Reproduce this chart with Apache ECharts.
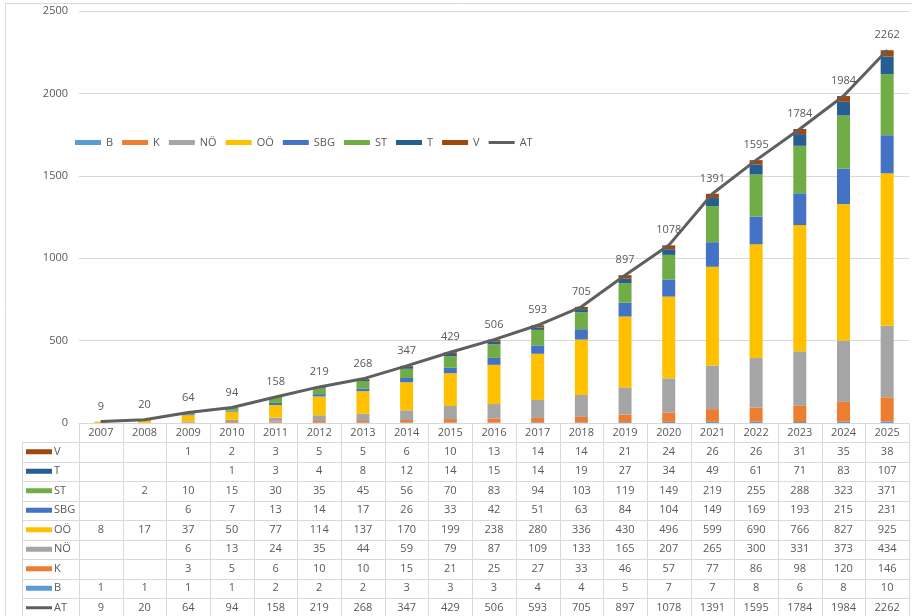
<!DOCTYPE html>
<html>
<head>
<meta charset="utf-8">
<script src="https://cdn.jsdelivr.net/npm/echarts@6/dist/echarts.min.js"></script>
<style>
  html, body { margin: 0; padding: 0; background: #fff; }
  #chart { width: 912px; height: 616px; }
</style>
</head>
<body>
<div id="chart"></div>
<script>
var years = ['2007','2008','2009','2010','2011','2012','2013','2014','2015','2016','2017','2018','2019','2020','2021','2022','2023','2024','2025'];
var yTicks = [0, 500, 1000, 1500, 2000, 2500];

var B   = [1, 1, 1, 1, 2, 2, 2, 3, 3, 3, 4, 4, 5, 7, 7, 8, 6, 8, 10];
var K   = [null, null, 3, 5, 6, 10, 10, 15, 21, 25, 27, 33, 46, 57, 77, 86, 98, 120, 146];
var NOE = [null, null, 6, 13, 24, 35, 44, 59, 79, 87, 109, 133, 165, 207, 265, 300, 331, 373, 434];
var OOE = [8, 17, 37, 50, 77, 114, 137, 170, 199, 238, 280, 336, 430, 496, 599, 690, 766, 827, 925];
var SBG = [null, null, 6, 7, 13, 14, 17, 26, 33, 42, 51, 63, 84, 104, 149, 169, 193, 215, 231];
var ST  = [null, 2, 10, 15, 30, 35, 45, 56, 70, 83, 94, 103, 119, 149, 219, 255, 288, 323, 371];
var T   = [null, null, null, 1, 3, 4, 8, 12, 14, 15, 14, 19, 27, 34, 49, 61, 71, 83, 107];
var V   = [null, null, 1, 2, 3, 5, 5, 6, 10, 13, 14, 14, 21, 24, 26, 26, 31, 35, 38];
var AT  = [9, 20, 64, 94, 158, 219, 268, 347, 429, 506, 593, 705, 897, 1078, 1391, 1595, 1784, 1984, 2262];

var barNames  = ['B', 'K', 'NÖ', 'OÖ', 'SBG', 'ST', 'T', 'V'];
var barData   = [B, K, NOE, OOE, SBG, ST, T, V];
var barColors = ['#5B9BD5', '#ED7D31', '#A5A5A5', '#FFC000', '#4472C4', '#70AD47', '#255E91', '#9E480E'];
var lineColor = '#5f5f5f';
var textColor = '#595959';
var gridColor = '#d9d9d9';
var font = '"Open Sans", sans-serif';

var series = [];
barNames.forEach(function (name, i) {
    series.push({
        name: name,
        type: 'bar',
        stack: 'total',
        barWidth: 13,
        itemStyle: { color: barColors[i] },
        data: barData[i]
    });
});
// labels of a line sit on its symbols, so keep a tiny symbol
series.push({
    name: 'AT',
    type: 'line',
    symbol: 'circle',
    symbolSize: 1,
    showSymbol: true,
    z: 5,
    lineStyle: { color: lineColor, width: 3 },
    itemStyle: { color: lineColor },
    label: {
        show: true,
        position: 'top',
        distance: 9,
        color: textColor,
        fontSize: 11,
        fontFamily: font
    },
    data: AT
});

var chart = echarts.init(document.getElementById('chart'));

var option = {
    animation: false,
    backgroundColor: '#fff',
    legend: {
        left: 75,
        top: 137,
        padding: 0,
        itemWidth: 26,
        itemHeight: 5,
        itemGap: 9,
        icon: 'rect',
        textStyle: { color: textColor, fontSize: 11, fontFamily: font },
        data: barNames.concat([{ name: 'AT', icon: 'path://M0,0H26V3H0Z' }])
    },
    grid: {
        left: 79,
        right: 3,
        top: 11,
        bottom: 193,
        containLabel: false
    },
    xAxis: {
        type: 'category',
        data: years,
        axisLine: { show: true, lineStyle: { color: gridColor } },
        axisTick: { show: false },
        axisLabel: { color: textColor, fontSize: 11, fontFamily: font, margin: 4 }
    },
    yAxis: {
        type: 'value',
        min: yTicks[0],
        max: yTicks[yTicks.length - 1],
        interval: yTicks[1] - yTicks[0],
        axisLine: { show: false },
        axisTick: { show: false },
        splitLine: { lineStyle: { color: gridColor } },
        axisLabel: {
            color: textColor, fontSize: 11, fontFamily: font, margin: 11,
            formatter: function (v) { return String(v); }
        }
    },
    series: series
};

chart.setOption(option);

// data table under the plot, placed from the category axis positions
function buildTable() {
    var rows = [
        { name: 'V',   color: barColors[7], data: V },
        { name: 'T',   color: barColors[6], data: T },
        { name: 'ST',  color: barColors[5], data: ST },
        { name: 'SBG', color: barColors[4], data: SBG },
        { name: 'OÖ',  color: barColors[3], data: OOE },
        { name: 'NÖ',  color: barColors[2], data: NOE },
        { name: 'K',   color: barColors[1], data: K },
        { name: 'B',   color: barColors[0], data: B },
        { name: 'AT',  color: lineColor, data: AT, line: true }
    ];
    var c0 = chart.convertToPixel({ xAxisIndex: 0 }, years[0]);
    var c1 = chart.convertToPixel({ xAxisIndex: 0 }, years[1]);
    var band = c1 - c0;
    var tableLeft = c0 - band / 2;
    var tableRight = tableLeft + band * years.length;
    var zeroY = chart.convertToPixel({ yAxisIndex: 0 }, 0);
    var headBottom = zeroY + 19;
    var rowH = 19.5;
    var labelLeft = 22;
    var els = [];
    var bottom = headBottom + rowH * rows.length;

    function hline(x1, x2, y) {
        y = Math.round(y) + 0.5;
        els.push({ type: 'line', silent: true, shape: { x1: x1, y1: y, x2: x2, y2: y }, style: { stroke: gridColor, lineWidth: 1 } });
    }
    function vline(x, y1, y2) {
        x = Math.round(x) + 0.5;
        els.push({ type: 'line', silent: true, shape: { x1: x, y1: y1, x2: x, y2: y2 }, style: { stroke: gridColor, lineWidth: 1 } });
    }

    // outer frame of the chart area
    hline(5, 912, 3);
    vline(5, 3, 616);

    for (var r = 0; r <= rows.length; r++) {
        hline(labelLeft, tableRight, headBottom + r * rowH);
    }
    vline(labelLeft, headBottom, bottom);
    for (var i = 0; i <= years.length; i++) {
        vline(tableLeft + i * band, zeroY, bottom);
    }

    rows.forEach(function (row, r) {
        var cy = headBottom + r * rowH + rowH / 2;
        if (row.line) {
            els.push({ type: 'rect', silent: true, shape: { x: 26, y: cy - 1.5, width: 26, height: 3 }, style: { fill: row.color } });
        } else {
            els.push({ type: 'rect', silent: true, shape: { x: 26, y: cy - 2.5, width: 26, height: 5 }, style: { fill: row.color } });
        }
        els.push({ type: 'text', silent: true, style: { text: row.name, x: 54, y: cy, align: 'left', verticalAlign: 'middle', fill: textColor, font: '11px ' + font } });
        row.data.forEach(function (v, i) {
            if (v === null) return;
            els.push({ type: 'text', silent: true, style: { text: String(v), x: c0 + i * band, y: cy, align: 'center', verticalAlign: 'middle', fill: textColor, font: '11px ' + font } });
        });
    });

    chart.setOption({ graphic: { elements: els } });
}

buildTable();
</script>
</body>
</html>
